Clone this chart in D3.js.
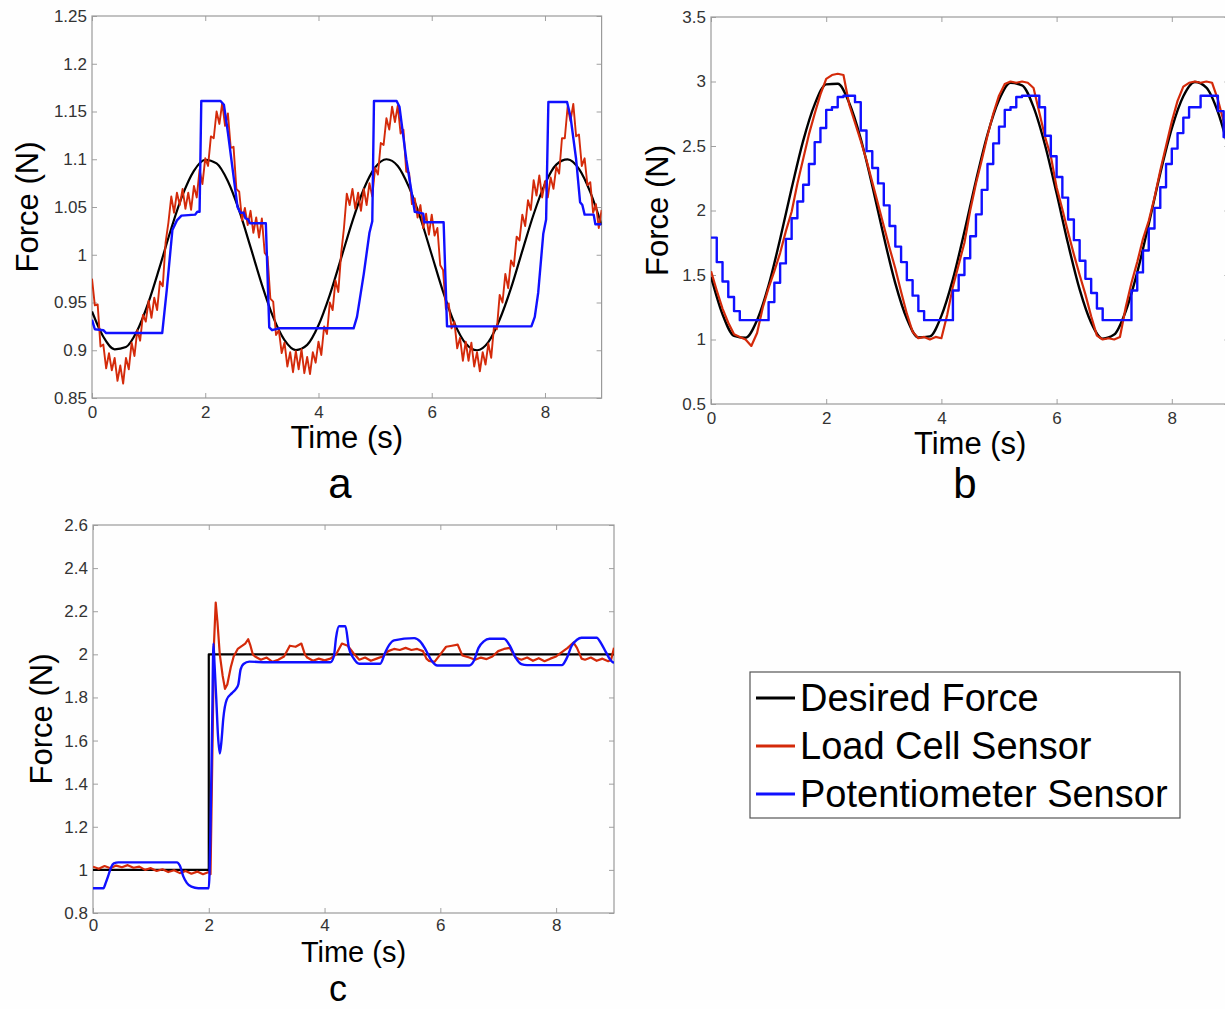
<!DOCTYPE html>
<html>
<head>
<meta charset="utf-8">
<script src="https://cdn.jsdelivr.net/npm/d3@7"></script>
<style>
  body { margin: 0; background: #fff; }
  svg { display: block; font-family: "Liberation Sans", Arial, Helvetica, sans-serif; }
</style>
</head>
<body>
<svg id="fig" width="1225" height="1009"></svg>
<script>

// ---------- data ----------
const xTicks = [0, 2, 4, 6, 8];

// panel a : sinusoid 1.0 +/- 0.1 N
const aYTicks = [0.85, 0.9, 0.95, 1, 1.05, 1.1, 1.15, 1.2, 1.25];
const aDesiredStep = 0.2;
const aDesired = [0.9406,0.9141,0.9010,0.9033,0.9207,0.9506,0.9881,1.0275,1.0626,1.0879,
  1.0995,1.0956,1.0769,1.0461,1.0080,0.9687,0.9346,0.9106,0.9002,0.9056,
  0.9261,0.9580,0.9964,1.0353,1.0689,1.0914,1.1000,1.0930,1.0706,1.0385,
  1.0000,0.9613,0.9284,0.9070,0.9000,0.9085,0.9322,0.9650,1.0040,1.0424,
  1.0742,1.0944,1.0998,1.0898,1.0655,1.0313];
const aLoadStep = 0.05;
const aLoad = [0.975,0.947,0.948,0.904,0.906,0.881,0.897,0.879,0.892,0.868,
  0.884,0.865,0.892,0.880,0.908,0.894,0.921,0.910,0.937,0.930,
  0.952,0.934,0.955,0.942,0.972,0.967,1.013,1.034,1.061,1.044,
  1.065,1.052,1.069,1.048,1.065,1.047,1.072,1.060,1.089,1.074,
  1.101,1.093,1.124,1.122,1.150,1.137,1.159,1.135,1.148,1.112,
  1.113,1.069,1.066,1.036,1.049,1.031,1.046,1.023,1.039,1.018,
  1.038,1.002,0.998,0.954,0.951,0.916,0.921,0.897,0.908,0.883,
  0.898,0.877,0.899,0.880,0.901,0.876,0.893,0.875,0.898,0.887,
  0.909,0.895,0.925,0.917,0.950,0.942,0.973,0.961,1.001,1.028,
  1.064,1.052,1.069,1.048,1.065,1.046,1.069,1.052,1.075,1.061,
  1.091,1.084,1.117,1.115,1.143,1.131,1.155,1.139,1.156,1.127,
  1.131,1.087,1.086,1.053,1.059,1.039,1.052,1.028,1.043,1.021,
  1.042,1.020,1.028,0.989,0.984,0.943,0.949,0.923,0.930,0.902,
  0.913,0.889,0.909,0.889,0.908,0.883,0.898,0.878,0.898,0.885,
  0.907,0.892,0.925,0.922,0.958,0.950,0.980,0.965,0.994,0.988,
  1.019,1.015,1.042,1.030,1.057,1.047,1.078,1.062,1.083,1.060,
  1.077,1.060,1.081,1.069,1.092,1.085,1.122,1.122,1.155,1.140,
  1.158,1.124,1.126,1.093,1.101,1.073,1.076,1.044,1.053,1.028,
  1.047];
const aPot = [[0,0.932],[0.05,0.922],[0.2,0.921],[0.25,0.918],[1.24,0.918],[1.32,0.963],
  [1.42,1.026],[1.5,1.036],[1.58,1.041],[1.82,1.042],[1.86,1.045],[1.9,1.045],[1.93,1.161],
  [2.27,1.161],[2.33,1.157],[2.4,1.128],[2.5,1.082],[2.57,1.05],[2.62,1.044],[2.68,1.044],
  [2.71,1.038],[2.76,1.037],[2.79,1.033],[3.07,1.033],[3.13,0.924],[3.18,0.921],[3.3,0.923],
  [4.62,0.923],[4.68,0.935],[4.8,0.98],[4.9,1.023],[4.95,1.035],[4.98,1.161],[5.38,1.161],
  [5.43,1.155],[5.55,1.1],[5.7,1.045],[5.85,1.043],[5.87,1.034],[6.21,1.034],[6.27,0.925],
  [7.76,0.925],[7.82,0.935],[7.88,0.96],[7.97,1.022],[8.02,1.037],[8.06,1.16],[8.39,1.16],
  [8.45,1.145],[8.55,1.1],[8.62,1.055],[8.66,1.052],[8.7,1.042],[8.86,1.042],[8.89,1.032],
  [9.0,1.032]];

// panel b : sinusoid 2 +/- 1 N
const bYTicks = [0.5, 1, 1.5, 2, 2.5, 3, 3.5];
const bDesiredStep = 0.2;
const bDesired = [1.486,1.195,1.028,1.013,1.150,1.419,1.779,2.172,2.540,2.823,
  2.978,2.982,2.833,2.556,2.192,1.798,1.435,1.161,1.016,1.024,
  1.183,1.468,1.837,2.231,2.589,2.856,2.989,2.970,2.801,2.506,
  2.133,1.740,1.388,1.130,1.007,1.038,1.219,1.520,1.896,2.288,
  2.636,2.885,2.996,2.953,2.764,2.455];
const bLoadStep = 0.1;
const bLoad = [1.53,1.38,1.24,1.13,1.04,1.02,1.00,0.95,1.05,1.25,
  1.40,1.53,1.67,1.84,1.99,2.21,2.40,2.59,2.75,2.90,
  3.02,3.05,3.06,3.05,2.82,2.68,2.54,2.39,2.22,2.05,
  1.88,1.71,1.55,1.37,1.20,1.06,1.01,1.02,1.00,1.02,
  1.01,1.19,1.41,1.58,1.75,2.00,2.21,2.39,2.58,2.75,
  2.89,2.98,3.00,2.99,3.00,2.99,2.95,2.76,2.57,2.42,
  2.18,2.01,1.83,1.66,1.50,1.35,1.18,1.03,1.00,1.01,
  1.00,1.02,1.25,1.44,1.60,1.78,1.92,2.10,2.31,2.50,
  2.69,2.85,2.96,2.99,3.00,2.99,3.00,2.99,2.86,2.69,
  2.50];
const bPotStep = 0.1;
const bPot = [1.79,1.60,1.45,1.33,1.22,1.15,1.15,1.15,1.15,1.15,
  1.29,1.44,1.59,1.78,1.94,2.07,2.20,2.36,2.53,2.64,
  2.78,2.80,2.88,2.89,2.89,2.84,2.62,2.46,2.33,2.21,
  2.04,1.88,1.72,1.60,1.46,1.34,1.22,1.15,1.15,1.15,
  1.15,1.15,1.38,1.50,1.63,1.80,1.97,2.16,2.36,2.52,
  2.65,2.78,2.80,2.88,2.89,2.89,2.89,2.80,2.58,2.42,
  2.26,2.10,1.93,1.77,1.61,1.47,1.36,1.24,1.15,1.15,
  1.15,1.15,1.15,1.38,1.52,1.69,1.86,2.02,2.18,2.36,
  2.48,2.60,2.72,2.80,2.80,2.89,2.89,2.89,2.77,2.57,
  2.45];

// panel c : step from 1 N to 2 N at t = 2 s
const cYTicks = [0.8, 1, 1.2, 1.4, 1.6, 1.8, 2, 2.2, 2.4, 2.6];
const cDesired = [[0,1],[2,1],[2,2],[9,2]];
const cLoad = [[0,1.015],[0.1,1.005],[0.2,1.018],[0.3,1.008],[0.4,1.02],[0.5,1.012],[0.6,1.022],
  [0.7,1.01],[0.8,1.015],[0.9,1.0],[1.0,1.008],[1.1,0.995],[1.2,1.003],[1.3,0.99],[1.4,0.998],
  [1.5,0.985],[1.6,0.995],[1.7,0.982],[1.8,0.992],[1.9,0.98],[2.0,0.99],[2.03,0.98],[2.06,1.5],
  [2.09,2.05],[2.12,2.24],[2.15,2.15],[2.19,2.0],[2.24,1.9],[2.28,1.84],[2.32,1.86],[2.38,1.94],
  [2.43,1.99],[2.5,2.025],[2.58,2.04],[2.63,2.05],[2.68,2.07],[2.72,2.04],[2.76,2.0],[2.8,1.99],
  [2.9,1.975],[3.0,1.985],[3.1,1.965],[3.2,1.975],[3.3,1.99],[3.4,2.04],[3.5,2.035],[3.6,2.05],
  [3.66,2.0],[3.7,1.985],[3.8,1.97],[3.9,1.98],[4.0,1.972],[4.1,1.98],[4.2,2.0],[4.3,2.05],
  [4.4,2.04],[4.5,2.005],[4.6,1.975],[4.7,1.985],[4.8,1.97],[4.9,1.98],[5.0,1.99],[5.1,2.015],
  [5.2,2.025],[5.3,2.02],[5.4,2.03],[5.5,2.02],[5.6,2.025],[5.7,2.015],[5.76,1.98],[5.8,1.97],
  [5.9,1.965],[6.0,2.0],[6.1,2.035],[6.2,2.04],[6.3,2.045],[6.38,1.995],[6.5,1.985],[6.6,1.975],
  [6.7,1.985],[6.8,1.978],[6.9,1.99],[7.0,2.015],[7.1,2.025],[7.2,2.03],[7.3,1.985],[7.4,1.975],
  [7.5,1.985],[7.6,1.97],[7.7,1.982],[7.8,1.968],[7.9,1.98],[8.0,1.99],[8.1,2.01],[8.2,2.03],
  [8.3,2.055],[8.36,2.03],[8.44,1.98],[8.5,1.975],[8.6,1.985],[8.7,1.97],[8.8,1.98],[8.9,1.968],
  [8.95,1.975],[9.0,2.03]];
const cPot = [[0,0.915],[0.18,0.915],[0.22,0.94],[0.26,0.97],[0.31,1.01],[0.36,1.03],[0.44,1.035],
  [1.45,1.035],[1.5,1.02],[1.56,0.97],[1.62,0.94],[1.7,0.922],[1.82,0.915],[2.0,0.915],[2.03,1.2],
  [2.06,1.7],[2.08,2.05],[2.1,1.95],[2.13,1.79],[2.16,1.62],[2.19,1.54],[2.22,1.6],[2.25,1.7],
  [2.31,1.79],[2.4,1.82],[2.47,1.84],[2.51,1.86],[2.55,1.93],[2.6,1.955],[2.7,1.966],[3.0,1.963],
  [4.1,1.963],[4.16,1.99],[4.2,2.08],[4.25,2.13],[4.36,2.13],[4.42,2.03],[4.5,1.982],[4.6,1.956],
  [4.96,1.956],[5.05,2.01],[5.12,2.045],[5.2,2.065],[5.55,2.075],[5.65,2.06],[5.75,2.02],
  [5.85,1.97],[5.95,1.948],[6.5,1.948],[6.58,1.97],[6.66,2.03],[6.75,2.06],[6.85,2.072],
  [7.1,2.072],[7.2,2.04],[7.3,1.985],[7.4,1.955],[7.5,1.95],[8.1,1.95],[8.18,1.98],[8.27,2.04],
  [8.36,2.068],[8.44,2.077],[8.7,2.077],[8.78,2.05],[8.86,2.01],[8.95,1.97],[9.0,1.96]];

const legendLabels = ["Desired Force", "Load Cell Sensor", "Potentiometer Sensor"];
const seriesColors = ["#000000", "#d42a0a", "#1010ff"];

// ---------- helpers ----------
const svg = d3.select("#fig");
svg.append("rect").attr("width", 1225).attr("height", 1009).attr("fill", "#fefefe");

// turn an evenly sampled list into [t, v] pairs
function sampled(values, step) {
	return values.map((v, i) => [i * step, v]);
}

function drawPanel(p) {
	const x = d3.scaleLinear().domain([0, 9]).range([p.left, p.right]);
	const y = d3.scaleLinear().domain([p.yTicks[0], p.yTicks[p.yTicks.length - 1]]).range([p.bottom, p.top]);

	const clipId = "clip-" + p.name;
	svg.append("clipPath").attr("id", clipId)
		.append("rect")
		.attr("x", p.left).attr("y", p.top)
		.attr("width", p.right - p.left).attr("height", p.bottom - p.top);

	const g = svg.append("g");
	const fmt = d => String(+d.toFixed(2));

	// axes, MATLAB style: ticks pointing inwards on all four sides
	const bottom = g.append("g").attr("transform", `translate(0,${p.bottom})`)
		.call(d3.axisBottom(x).tickValues(xTicks).tickSize(-5).tickPadding(p.xPad).tickFormat(fmt));
	const left = g.append("g").attr("transform", `translate(${p.left},0)`)
		.call(d3.axisLeft(y).tickValues(p.yTicks).tickSize(-5).tickPadding(5).tickFormat(fmt));
	const top = g.append("g").attr("transform", `translate(0,${p.top})`)
		.call(d3.axisTop(x).tickValues(xTicks).tickSize(-5).tickFormat(""));
	const right = g.append("g").attr("transform", `translate(${p.right},0)`)
		.call(d3.axisRight(y).tickValues(p.yTicks).tickSize(-5).tickFormat(""));

	[bottom, left, top, right].forEach(a => {
		a.select(".domain").remove();
		a.selectAll("line").attr("stroke", "#a0a0a0");
		a.selectAll("text").attr("fill", "#333").style("font-size", "17px")
			.style("font-family", "'Liberation Sans', Arial, sans-serif");
	});

	g.append("rect")
		.attr("x", p.left).attr("y", p.top)
		.attr("width", p.right - p.left).attr("height", p.bottom - p.top)
		.attr("fill", "none").attr("stroke", "#9a9a9a").attr("stroke-width", 1.2);

	const plot = g.append("g").attr("clip-path", `url(#${clipId})`);
	p.series.forEach((s, i) => {
		const line = d3.line()
			.x(d => x(d[0]))
			.y(d => y(d[1]))
			.curve(s.curve || d3.curveLinear);
		plot.append("path")
			.datum(s.data)
			.attr("d", line)
			.attr("fill", "none")
			.attr("stroke", seriesColors[i])
			.attr("stroke-width", s.width)
			.attr("stroke-linejoin", "round");
	});

	// labels
	g.append("text")
		.attr("x", (p.left + p.right) / 2).attr("y", p.bottom + p.timeGap)
		.attr("text-anchor", "middle").style("font-size", p.timeSize + "px")
		.text("Time (s)");
	g.append("text")
		.attr("transform", `translate(${p.yLabelX},${(p.top + p.bottom) / 2}) rotate(-90)`)
		.attr("text-anchor", "middle").style("font-size", "31px")
		.text("Force (N)");
	g.append("text")
		.attr("x", p.letterX).attr("y", p.letterY)
		.attr("text-anchor", "middle").style("font-size", p.letterSize + "px")
		.text(p.name);
}

drawPanel({
	name: "a", left: 92, right: 601.6, top: 16, bottom: 398, xPad: 8,
	yTicks: aYTicks, yLabelX: 38, letterX: 340, letterY: 498, letterSize: 42,
	timeGap: 50, timeSize: 31,
	series: [
		{ data: sampled(aDesired, aDesiredStep), width: 2.2, curve: d3.curveMonotoneX },
		{ data: sampled(aLoad, aLoadStep), width: 1.9 },
		{ data: aPot, width: 2.4 }
	]
});

drawPanel({
	name: "b", left: 711, right: 1229.4, top: 17, bottom: 404, xPad: 8,
	yTicks: bYTicks, yLabelX: 668, letterX: 965, letterY: 498, letterSize: 42,
	timeGap: 50, timeSize: 31,
	series: [
		{ data: sampled(bDesired, bDesiredStep), width: 2.4, curve: d3.curveMonotoneX },
		{ data: sampled(bLoad, bLoadStep), width: 2.2 },
		{ data: sampled(bPot, bPotStep), width: 2.4, curve: d3.curveStepAfter }
	]
});

drawPanel({
	name: "c", left: 93, right: 614, top: 525, bottom: 913, xPad: 6,
	yTicks: cYTicks, yLabelX: 52, letterX: 338, letterY: 1001, letterSize: 36,
	timeGap: 49, timeSize: 29,
	series: [
		{ data: cDesired, width: 2.2 },
		{ data: cLoad, width: 2.2 },
		{ data: cPot, width: 2.4, curve: d3.curveMonotoneX }
	]
});

// legend
const legend = svg.append("g");
legend.append("rect")
	.attr("x", 750).attr("y", 672).attr("width", 430).attr("height", 146)
	.attr("fill", "#fff").attr("stroke", "#555").attr("stroke-width", 1.2);
const rowY = d3.scalePoint().domain(legendLabels).range([698, 794]);
legendLabels.forEach((lab, i) => {
	legend.append("line")
		.attr("x1", 756).attr("x2", 795)
		.attr("y1", rowY(lab)).attr("y2", rowY(lab))
		.attr("stroke", seriesColors[i]).attr("stroke-width", 3);
	legend.append("text")
		.attr("x", 800).attr("y", rowY(lab) + 13)
		.style("font-size", "38px")
		.text(lab);
});
</script>
</body>
</html>
